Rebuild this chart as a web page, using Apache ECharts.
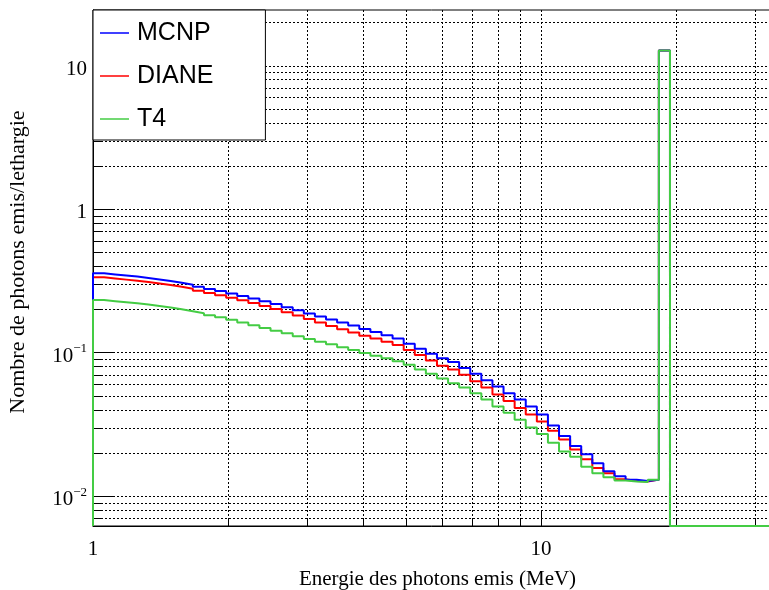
<!DOCTYPE html>
<html><head><meta charset="utf-8">
<script src="https://cdn.jsdelivr.net/npm/echarts@6/dist/echarts.min.js"></script>
<style>html,body{margin:0;padding:0;background:#fff;}#c{width:769px;height:590px;}</style>
</head><body><div id="c"></div>
<script>
// ---- data ----
const seriesNames = ['MCNP', 'DIANE', 'T4'];
const binLogWidth = 0.024769;          // histogram bin width in decades, first edge at 1 MeV
const mcnp = [0.356,0.350,0.344,0.338,0.331,0.323,0.315,0.306,0.297,0.287,
  0.277,0.268,0.258,0.248,0.238,0.228,0.218,0.207,0.197,0.187,
  0.178,0.170,0.162,0.154,0.146,0.139,0.132,0.125,0.115,0.106,
  0.098,0.091,0.086,0.078,0.071,0.064,0.058,0.052,0.047,0.042,
  0.037,0.031,0.0262,0.0223,0.0195,0.0169,0.0149,0.0137,0.0130,0.0127,
  0.0130,12.7,0,0,0,0,0,0,0,0,0,0];
const diane = [0.334,0.328,0.322,0.316,0.310,0.303,0.295,0.287,0.278,0.269,
  0.260,0.251,0.241,0.231,0.221,0.211,0.201,0.191,0.181,0.171,
  0.162,0.153,0.145,0.138,0.131,0.125,0.119,0.113,0.104,0.096,
  0.088,0.081,0.076,0.070,0.063,0.057,0.051,0.046,0.041,0.037,
  0.033,0.0285,0.0248,0.0211,0.0180,0.0157,0.0144,0.0131,0.0127,0.0126,
  0.0130,12.7,0,0,0,0,0,0,0,0,0,0];
const t4 = [0.232,0.228,0.224,0.220,0.216,0.211,0.206,0.200,0.194,0.188,
  0.182,0.176,0.169,0.162,0.155,0.148,0.142,0.136,0.130,0.124,
  0.119,0.114,0.109,0.104,0.099,0.095,0.091,0.087,0.082,0.076,
  0.071,0.066,0.061,0.057,0.052,0.047,0.042,0.038,0.034,0.030,
  0.027,0.0235,0.0204,0.0188,0.0160,0.0144,0.0135,0.0128,0.0126,0.0125,
  0.0130,12.7,0,0,0,0,0,0,0,0,0,0];
const xMin = 1, xMax = 32.62, yMin = 0.006178, yMax = 24.37;
const xMajorTicks = [1, 10];
const xMinorTicks = [2,3,4,5,6,7,8,9,20,30];
const yMajorTicks = [0.01, 0.1, 1, 10];
const yMinorTicks = [0.007,0.008,0.009,0.02,0.03,0.04,0.05,0.06,0.07,0.08,0.09,
  0.2,0.3,0.4,0.5,0.6,0.7,0.8,0.9,2,3,4,5,6,7,8,9,20];
const xTitle = 'Energie des photons emis (MeV)';
const yTitle = 'Nombre de photons emis/lethargie';
const colors = {MCNP: '#0000ff', DIANE: '#ff0000', T4: '#44cc44'};

// ---- build ----
function stepPoints(vals) {
  const pts = [[xMin, yMin]];
  for (let i = 0; i < vals.length; i++) {
    const v = Math.max(vals[i], yMin);
    const a = Math.pow(10, i * binLogWidth), b = Math.pow(10, (i + 1) * binLogWidth);
    pts.push([a, v], [b, v]);
  }
  return pts;
}
const SERIF = 'Liberation Serif';
function isPow10(v) { const l = Math.log10(v); return Math.abs(l - Math.round(l)) < 1e-6; }

function renderV(params, api) {
  const cs = params.coordSys;
  let x = Math.round(api.coord([api.value(0), yMin])[0]) + 0.5;
  const major = api.value(2) === 1;
  const yb = cs.y + cs.height;
  const ch = [{type:'line', shape:{x1:x,y1:yb,x2:x,y2:yb-(major?15:8)}, style:{stroke:'#000', lineWidth:1}}];
  if (x > cs.x + 2) ch.push({type:'line', shape:{x1:x,y1:cs.y,x2:x,y2:yb}, style:{stroke:'#000', lineWidth:1, lineDash:[2,2]}});
  return {type:'group', children: ch};
}
function renderH(params, api) {
  const cs = params.coordSys;
  let y = Math.round(api.coord([xMin, api.value(1)])[1]) + 0.5;
  const major = api.value(2) === 1;
  return {type:'group', children:[
    {type:'line', shape:{x1:cs.x,y1:y,x2:cs.x+cs.width,y2:y}, style:{stroke:'#000', lineWidth:1, lineDash:[2,2]}},
    {type:'line', shape:{x1:cs.x,y1:y,x2:cs.x+(major?20:10),y2:y}, style:{stroke:'#000', lineWidth:1}}
  ]};
}
const vData = xMajorTicks.map(v => [v, yMin, 1]).concat(xMinorTicks.map(v => [v, yMin, 0]));
const hData = yMajorTicks.map(v => [xMin, v, 1]).concat(yMinorTicks.map(v => [xMin, v, 0]));

const dataMap = {MCNP: mcnp, DIANE: diane, T4: t4};
const drawOrder = ['DIANE', 'MCNP', 'T4'];
const lineSeries = drawOrder.map((n, i) => ({
  name: n, type: 'line', data: stepPoints(dataMap[n]), symbol: 'none', showSymbol: false,
  lineStyle: {color: colors[n], width: 2}, itemStyle: {color: colors[n]},
  z: 3 + i, clip: true, animation: false
}));

const chart = echarts.init(document.getElementById('c'), null, {renderer: 'canvas'});
chart.setOption({
  animation: false,
  backgroundColor: '#fff',
  grid: {left: 93, right: -2, top: 10, bottom: 64, outerBoundsMode: 'none', containLabel: false,
    show: true, borderColor: '#000', borderWidth: 1, backgroundColor: 'transparent'},
  legend: {
    data: seriesNames.map(n => ({name: n, icon: 'rect', itemStyle: {color: colors[n]}})),
    orient: 'vertical', left: 93, top: 10,
    itemWidth: 29, itemHeight: 1.5, itemGap: 13,
    padding: [8, 52, 6, 7],
    backgroundColor: '#fff', borderColor: '#000', borderWidth: 1, borderRadius: 0,
    textStyle: {fontFamily: 'Liberation Sans', fontSize: 25, color: '#000', lineHeight: 30, padding: [0,0,0,3]},
    z: 20, selectedMode: false
  },
  xAxis: {
    type: 'log', logBase: 10, min: xMin, max: xMax,
    name: xTitle, nameLocation: 'middle', nameGap: 43,
    nameTextStyle: {fontFamily: SERIF, fontSize: 21, color: '#000', padding: [0,0,0,11]},
    axisLine: {show: true, lineStyle: {color: '#000', width: 1}},
    axisTick: {show: false}, splitLine: {show: false}, minorTick: {show: false},
    axisLabel: {fontFamily: SERIF, fontSize: 21, color: '#000', margin: 13,
      formatter: v => isPow10(v) ? String(Math.round(v)) : ''}
  },
  yAxis: {
    type: 'log', logBase: 10, min: yMin, max: yMax,
    name: yTitle, nameLocation: 'middle', nameGap: 64, nameRotate: 90,
    nameTextStyle: {fontFamily: SERIF, fontSize: 22, color: '#000', padding: [0,0,0,12]},
    axisLine: {show: true, lineStyle: {color: '#000', width: 1}},
    axisTick: {show: false}, splitLine: {show: false},
    axisLabel: {margin: 6, color: '#000', padding: [4, 0, 0, 0],
      formatter: v => {
        if (!isPow10(v)) return '';
        const e = Math.round(Math.log10(v));
        if (e === 0) return '{b|1}';
        if (e === 1) return '{b|10}';
        return '{b|10}{s|\u2212' + (-e) + '}';
      },
      rich: {
        b: {fontFamily: SERIF, fontSize: 21, color: '#000', lineHeight: 24, verticalAlign: 'bottom'},
        s: {fontFamily: SERIF, fontSize: 13, color: '#000', lineHeight: 14, verticalAlign: 'top'}
      }
    }
  },
  series: [
    {type: 'custom', name: 'vgrid', renderItem: renderV, data: vData, silent: true, z: 1, clip: false, animation: false},
    {type: 'custom', name: 'hgrid', renderItem: renderH, data: hData, silent: true, z: 1, clip: false, animation: false}
  ].concat(lineSeries)
});
</script></body></html>
